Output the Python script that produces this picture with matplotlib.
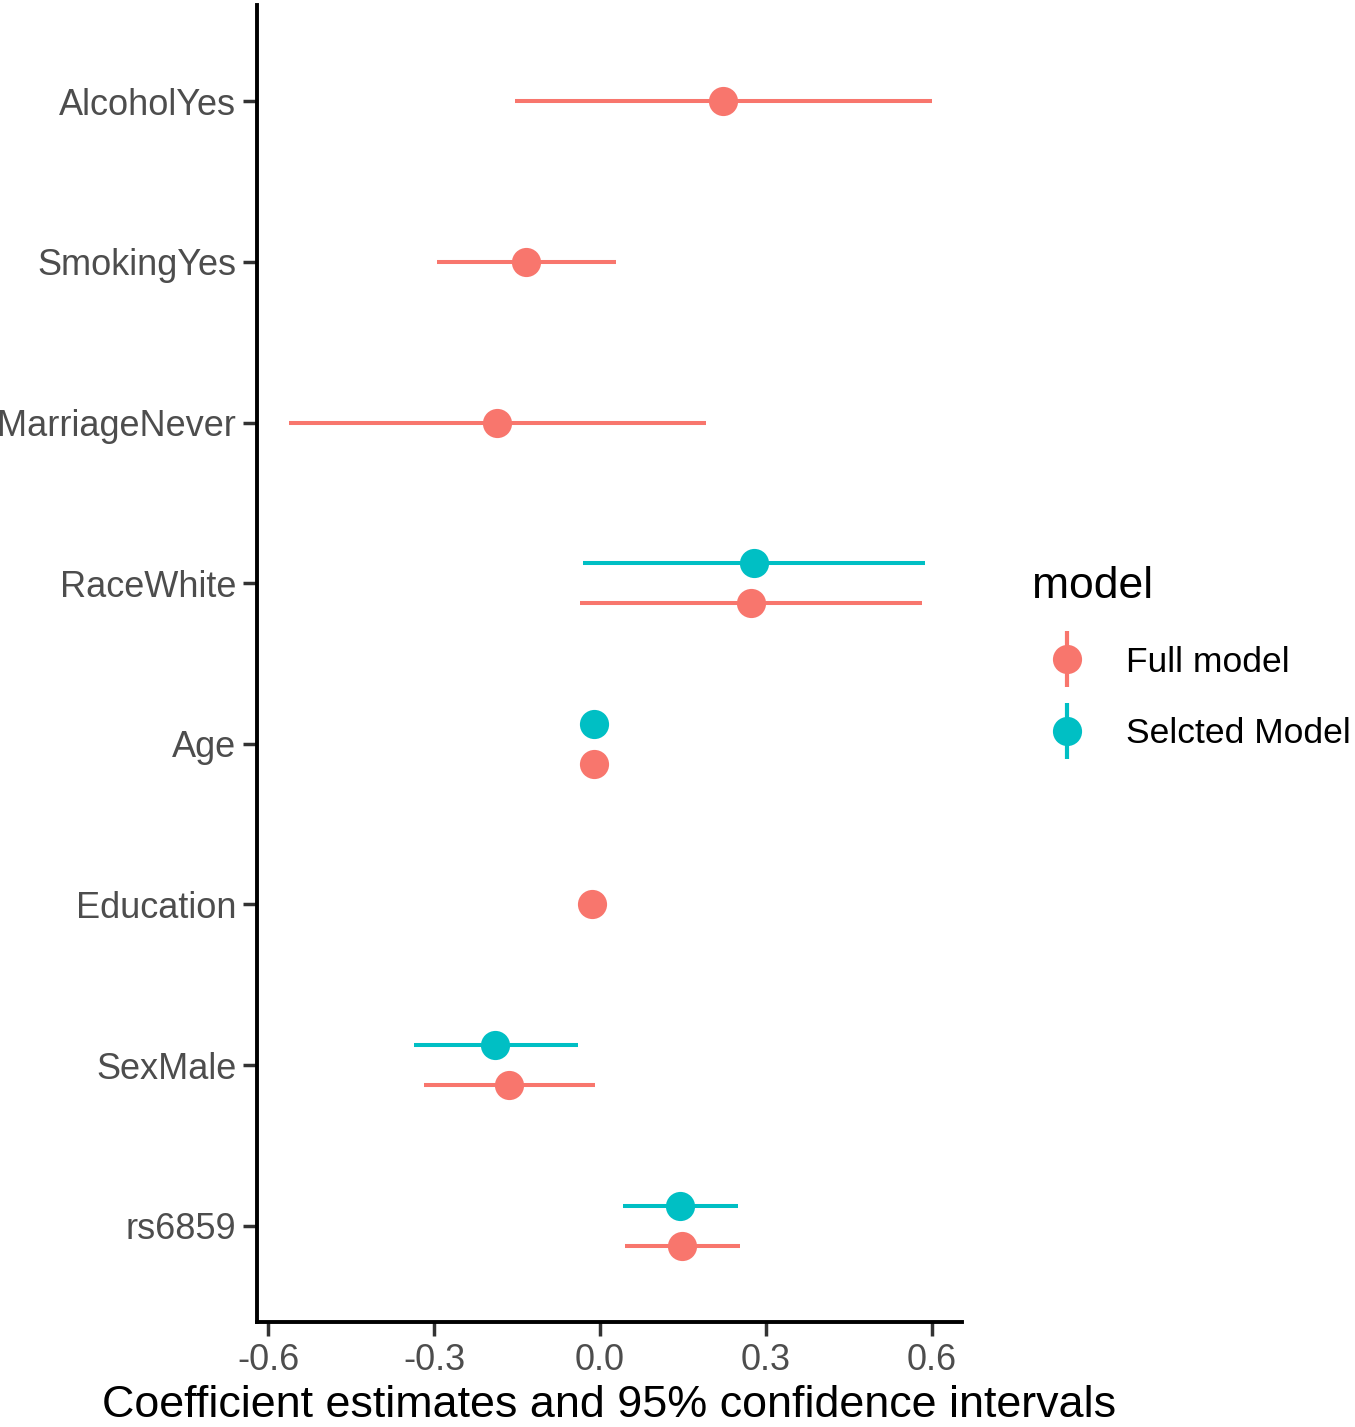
import matplotlib
matplotlib.use("Agg")
import matplotlib.pyplot as plt
from matplotlib.lines import Line2D
import numpy as np

plt.rcParams['font.family'] = ['Liberation Sans', 'DejaVu Sans']

terms = ["rs6859", "SexMale", "Education", "Age", "RaceWhite",
         "MarriageNever", "SmokingYes", "AlcoholYes"]

full_est = [0.148, -0.164, -0.014, -0.011, 0.273, -0.186, -0.134, 0.222]
full_lo = [0.045, -0.318, -0.020, -0.016, -0.036, -0.562, -0.295, -0.154]
full_hi = [0.253, -0.009, -0.008, -0.006, 0.582, 0.192, 0.029, 0.600]

sel_est = [0.145, -0.190, None, -0.011, 0.278, None, None, None]
sel_lo = [0.042, -0.336, None, -0.015, -0.031, None, None, None]
sel_hi = [0.249, -0.040, None, -0.007, 0.587, None, None, None]

models = ["Full model", "Selcted Model"]
colors = {"Full model": "#F8766D", "Selcted Model": "#00BFC4"}
series = {"Full model": (full_est, full_lo, full_hi),
          "Selcted Model": (sel_est, sel_lo, sel_hi)}

W, H = 1355, 1427
fig = plt.figure(figsize=(W / 100, H / 100), dpi=100)
ax = fig.add_axes([257 / W, 1 - 1322 / H, (962 - 257) / W, (1322 - 5) / H])

dodge = 0.248
for i, t in enumerate(terms):
    present = [m for m in models if series[m][0][i] is not None]
    n = len(present)
    for k, m in enumerate(present):
        off = (k - (n - 1) / 2) * dodge
        y = i + 1 + off
        est, lo, hi = series[m]
        ax.plot([lo[i], hi[i]], [y, y], color=colors[m], lw=2.9,
                solid_capstyle='butt', zorder=2)
        ax.plot(est[i], y, 'o', color=colors[m], ms=21, mew=0, zorder=3)

ax.set_xlim(-0.620, 0.654)
ax.set_ylim(0.4, 8.6)
ax.set_xticks([-0.6, -0.3, 0.0, 0.3, 0.6])
ax.set_xticklabels(["-0.6", "-0.3", "0.0", "0.3", "0.6"])
ax.set_yticks(range(1, len(terms) + 1))
ax.set_yticklabels(terms)
ax.tick_params(axis='both', labelsize=26, labelcolor='#4D4D4D', color='#333333',
               length=10, width=2.5, pad=5)
for s in ['top', 'right']:
    ax.spines[s].set_visible(False)
for s in ['left', 'bottom']:
    ax.spines[s].set_linewidth(2.8)
    ax.spines[s].set_color('black')
ax.set_xlabel("Coefficient estimates and 95% confidence intervals",
              fontsize=32.3, color='black', labelpad=5)

handles = []
for m in models:
    vline = Line2D([], [], marker='|', ms=40, mew=3, color=colors[m], ls='none')
    dot = Line2D([], [], marker='o', ms=21, mew=0, color=colors[m], ls='none')
    handles.append((vline, dot))
leg = fig.legend(handles, models, loc='center left',
                 bbox_to_anchor=(1000 / W, 1 - 658 / H),
                 frameon=False, fontsize=25.5, title="model",
                 title_fontsize=32, alignment='left',
                 handlelength=2.0, handletextpad=0.66, labelspacing=1.1)

fig.savefig("out.png", dpi=100, facecolor='white')
